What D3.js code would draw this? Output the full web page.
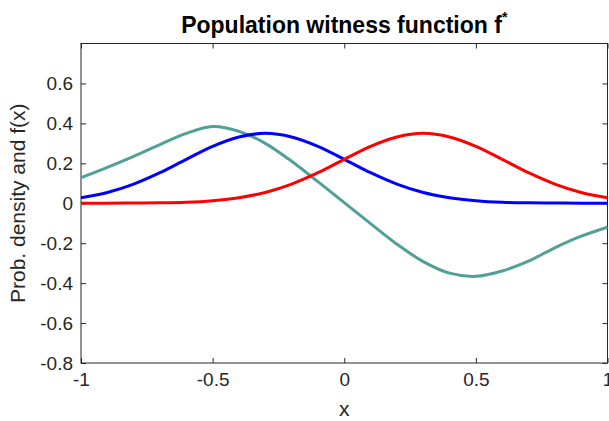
<!DOCTYPE html>
<html lang="en">
<head>
<meta charset="utf-8">
<title>Population witness function</title>
<script type="text/javascript" src="https://d3js.org/d3.v7.min.js"></script>
<style>
body { margin: 0; background: #fff; }
text { font-family: "Liberation Sans", Arial, Helvetica, sans-serif; fill: #262626; }
.axis path, .axis line { stroke: #262626; }
</style>
</head>
<body>
<div id="chart"></div>
<script type="text/javascript">

var xs = [-1, -0.9, -0.8, -0.7, -0.6, -0.5, -0.4, -0.3, -0.2, -0.1, 0,
          0.1, 0.2, 0.3, 0.4, 0.5, 0.6, 0.7, 0.8, 0.9, 1];

var densityP = [0.028, 0.054, 0.096, 0.153, 0.220, 0.285, 0.332, 0.350, 0.332, 0.285, 0.220,
                0.153, 0.096, 0.054, 0.028, 0.013, 0.005, 0.002, 0.001, 0.000, 0.000];

var densityQ = [0.000, 0.000, 0.001, 0.002, 0.005, 0.013, 0.028, 0.054, 0.096, 0.153, 0.220,
                0.285, 0.332, 0.350, 0.332, 0.285, 0.220, 0.153, 0.096, 0.054, 0.028];

var witness = [0.128, 0.180, 0.235, 0.294, 0.350, 0.384, 0.360, 0.300, 0.210, 0.108, 0.003,
               -0.102, -0.205, -0.292, -0.350, -0.366, -0.339, -0.290, -0.223, -0.165, -0.120];

var xTicks = [-1, -0.5, 0, 0.5, 1];
var yTicks = [-0.8, -0.6, -0.4, -0.2, 0, 0.2, 0.4, 0.6];

var width = 609, height = 421;
var margin = {top: 43.5, right: 1.5, bottom: 58, left: 81};
var w = width - margin.left - margin.right;
var h = height - margin.top - margin.bottom;

var svg = d3.select("#chart").append("svg")
    .attr("width", width)
    .attr("height", height);

var root = svg.append("g")
    .attr("transform", "translate(" + margin.left + "," + margin.top + ")");

var xScale = d3.scaleLinear().domain([-1, 1]).range([0, w]);
var yScale = d3.scaleLinear().domain([-0.8, 0.8]).range([h, 0]);

var fmt = function(d) { return d === 0 ? "0" : String(d); };

// axes: ticks inside, box on all sides
function styleAxis(g) {
    g.attr("class", "axis");
    g.select(".domain").remove();
    g.selectAll("line").attr("stroke", "#262626");
}

root.append("g")
    .attr("transform", "translate(0," + h + ")")
    .call(d3.axisBottom(xScale).tickValues(xTicks).tickSize(-5).tickPadding(10).tickFormat(fmt))
    .call(styleAxis)
    .selectAll("text").style("font-size", "19px").attr("dy", "0.71em");

root.append("g")
    .call(d3.axisTop(xScale).tickValues(xTicks).tickSize(-5).tickFormat(""))
    .call(styleAxis);

root.append("g")
    .call(d3.axisLeft(yScale).tickValues(yTicks).tickSize(-5).tickPadding(8).tickFormat(fmt))
    .call(styleAxis)
    .selectAll("text").style("font-size", "19px");

root.append("g")
    .attr("transform", "translate(" + w + ",0)")
    .call(d3.axisRight(yScale).tickValues(yTicks).tickSize(-5).tickFormat(""))
    .call(styleAxis);

root.append("rect")
    .attr("x", 0).attr("y", 0)
    .attr("width", w).attr("height", h)
    .attr("fill", "none")
    .attr("stroke", "#262626")
    .attr("stroke-width", 1);

var line = function(values) {
    return d3.line()
        .x(function(d, i) { return xScale(xs[i]); })
        .y(function(d) { return yScale(d); })
        .curve(d3.curveCatmullRom.alpha(0.5))(values);
};

var series = [
    {values: witness, color: "#50a098"},
    {values: densityP, color: "#0000ff"},
    {values: densityQ, color: "#ff0000"}
];

root.selectAll(".series")
    .data(series)
    .enter().append("path")
        .attr("class", "series")
        .attr("d", function(d) { return line(d.values); })
        .attr("fill", "none")
        .attr("stroke", function(d) { return d.color; })
        .attr("stroke-width", 3);

// labels
svg.append("text")
    .attr("x", margin.left + w / 2)
    .attr("y", 416)
    .attr("text-anchor", "middle")
    .style("font-size", "21px")
    .text("x");

svg.append("text")
    .attr("transform", "translate(25," + (margin.top + h / 2) + ") rotate(-90)")
    .attr("text-anchor", "middle")
    .style("font-size", "21px")
    .text("Prob. density and f(x)");

var title = svg.append("text")
    .attr("x", margin.left + w / 2)
    .attr("y", 33)
    .attr("text-anchor", "middle")
    .style("font-size", "23px")
    .style("font-weight", "bold")
    .style("fill", "#000");
title.append("tspan").text("Population witness function f");
title.append("tspan").attr("dy", -11).style("font-size", "14px").text("*");

</script>
</body>
</html>
